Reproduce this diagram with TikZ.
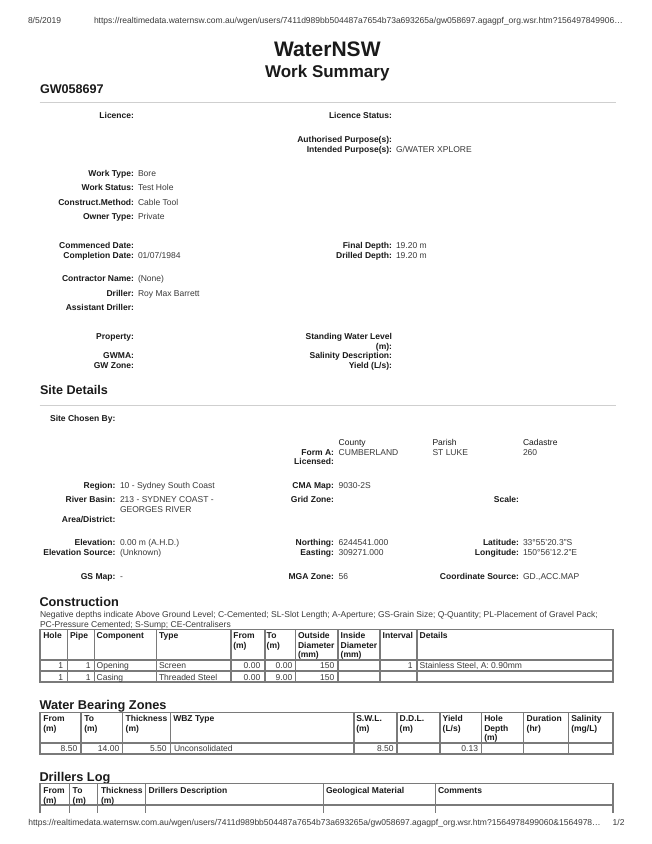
\documentclass[tikz,border=0pt]{standalone}
\usepackage{fontspec}
\setmainfont{Liberation Sans}
\definecolor{ink}{HTML}{1A1A1A}
\definecolor{valink}{HTML}{3A3A3A}
\definecolor{gridgrey}{HTML}{7A7A7A}
\definecolor{rulegrey}{HTML}{CFCFCF}
\tikzset{
 every node/.style={inner sep=0pt,outer sep=0pt,text=ink},
 lab/.style={anchor=base east,font=\fontsize{8.52}{10}\selectfont\bfseries},
 val/.style={anchor=base west,font=\fontsize{8.52}{10}\selectfont,text=valink},
 head/.style={anchor=base west,font=\fontsize{8.52}{10}\selectfont\bfseries},
 cellr/.style={anchor=base east,font=\fontsize{8.52}{10}\selectfont,text=valink},
 celll/.style={anchor=base west,font=\fontsize{8.52}{10}\selectfont,text=valink},
 sect/.style={anchor=base west,font=\fontsize{12.6}{14}\selectfont\bfseries},
 sectb/.style={anchor=base west,font=\fontsize{12.75}{15}\selectfont\bfseries},
 small/.style={anchor=base west,font=\fontsize{8.52}{10}\selectfont,text=valink},
 pagerule/.style={draw=rulegrey,line width=1pt},
 tline/.style={draw=gridgrey,line width=1.2pt},
 tframe/.style={draw=gridgrey,line width=1.6pt},
}
\begin{document}
\begin{tikzpicture}[x=1pt,y=-1pt]
\useasboundingbox (0,0) rectangle (652,844);
\fill[white] (0,0) rectangle (652,844);
% page header
\node[small] (date) at (28,23.5) {8/5/2019};
\node[small] (url) at (94,23.5) {https://realtimedata.waternsw.com.au/wgen/users/7411d989bb504487a7654b73a693265a/gw058697.agagpf\_org.wsr.htm?156497849906…};
\node[anchor=base,font=\fontsize{21}{24}\selectfont\bfseries] (title) at (327.3,56.5) {WaterNSW};
\node[anchor=base,font=\fontsize{17}{20}\selectfont\bfseries] (subtitle) at (327.3,77) {Work Summary};
\node[sect] (gw) at (40,93.5) {GW058697};
\draw[pagerule] (39.6,102.5) -- (616,102.5);
% summary
\node[lab] (l1) at (134,118.5) {Licence:};
\node[lab] (l2) at (392,118.5) {Licence Status:};
\node[lab] (l3) at (392,142.5) {Authorised Purpose(s):};
\node[lab] (l4) at (392,152.5) {Intended Purpose(s):};
\node[val] (v4) at (396,152.5) {G/WATER XPLORE};
\node[lab] (l5) at (134,176.5) {Work Type:};
\node[val] (v5) at (138,176.5) {Bore};
\node[lab] (l6) at (134,190.5) {Work Status:};
\node[val] (v6) at (138,190.5) {Test Hole};
\node[lab] (l7) at (134,205.5) {Construct.Method:};
\node[val] (v7) at (138,205.5) {Cable Tool};
\node[lab] (l8) at (134,219.5) {Owner Type:};
\node[val] (v8) at (138,219.5) {Private};
\node[lab] (l9) at (134,248.5) {Commenced Date:};
\node[lab] (l10) at (134,258.5) {Completion Date:};
\node[val] (v10) at (138,258.5) {01/07/1984};
\node[lab] (l11) at (392,248.5) {Final Depth:};
\node[val] (v11) at (396,248.5) {19.20 m};
\node[lab] (l12) at (392,258.5) {Drilled Depth:};
\node[val] (v12) at (396,258.5) {19.20 m};
\node[lab] (l13) at (134,281.5) {Contractor Name:};
\node[val] (v13) at (138,281.5) {(None)};
\node[lab] (l14) at (134,296.5) {Driller:};
\node[val] (v14) at (138,296.5) {Roy Max Barrett};
\node[lab] (l15) at (134,310.5) {Assistant Driller:};
\node[lab] (l16) at (134,339.5) {Property:};
\node[lab] (l17) at (392,339.5) {Standing Water Level};
\node[lab] (l17b) at (392,349.5) {(m):};
\node[lab] (l18) at (134,358.5) {GWMA:};
\node[lab] (l19) at (392,358.5) {Salinity Description:};
\node[lab] (l20) at (134,368.5) {GW Zone:};
\node[lab] (l21) at (392,368.5) {Yield (L/s):};
% site details
\node[sect] (site) at (40,394.5) {Site Details};
\draw[pagerule] (39.6,405) -- (616,405);
\node[lab] (s1) at (115.4,421.5) {Site Chosen By:};
\node[val,text=ink] (c1) at (338.7,445) {County};
\node[val,text=ink] (c2) at (432.5,445) {Parish};
\node[val,text=ink] (c3) at (523,445) {Cadastre};
\node[lab] (s2) at (334,455) {Form A:};
\node[val] (c4) at (338.7,455) {CUMBERLAND};
\node[val] (c5) at (432.5,455) {ST LUKE};
\node[val] (c6) at (523,455) {260};
\node[lab] (s3) at (334,464.5) {Licensed:};
\node[lab] (s4) at (115.4,488.5) {Region:};
\node[val] (s4v) at (120,488.5) {10 - Sydney South Coast};
\node[lab] (s5) at (334,488.5) {CMA Map:};
\node[val] (s5v) at (338.7,488.5) {9030-2S};
\node[lab] (s6) at (115.4,502.5) {River Basin:};
\node[val] (s6v) at (120,502.5) {213 - SYDNEY COAST -};
\node[val] (s6w) at (120,512.5) {GEORGES RIVER};
\node[lab] (s7) at (334,502.5) {Grid Zone:};
\node[lab] (s8) at (519,502.5) {Scale:};
\node[lab] (s9) at (115.4,522.5) {Area/District:};
\node[lab] (s10) at (115.4,545.5) {Elevation:};
\node[val] (s10v) at (120,545.5) {0.00 m (A.H.D.)};
\node[lab] (s11) at (115.4,555.5) {Elevation Source:};
\node[val] (s11v) at (120,555.5) {(Unknown)};
\node[lab] (s12) at (334,545.5) {Northing:};
\node[val] (s12v) at (338.7,545.5) {6244541.000};
\node[lab] (s13) at (334,555.5) {Easting:};
\node[val] (s13v) at (338.7,555.5) {309271.000};
\node[lab] (s14) at (519,545.5) {Latitude:};
\node[val] (s14v) at (523,545.5) {33°55'20.3"S};
\node[lab] (s15) at (519,555.5) {Longitude:};
\node[val] (s15v) at (523,555.5) {150°56'12.2"E};
\node[lab] (s16) at (115.4,579.5) {GS Map:};
\node[val] (s16v) at (120,579.5) {-};
\node[lab] (s17) at (334,579.5) {MGA Zone:};
\node[val] (s17v) at (338.7,579.5) {56};
\node[lab] (s18) at (519,579.5) {Coordinate Source:};
\node[val] (s18v) at (523,579.5) {GD.,ACC.MAP};
% construction
\node[sectb] (con) at (39.5,606.5) {Construction};
\node[celll] (n1) at (40,617.7) {Negative depths indicate Above Ground Level; C-Cemented; SL-Slot Length; A-Aperture; GS-Grain Size; Q-Quantity; PL-Placement of Gravel Pack;};
\node[celll] (n2) at (40,627) {PC-Pressure Cemented; S-Sump; CE-Centralisers};
\draw[tframe] (40,629.5) rectangle (613,682);
\draw[tline] (40,660) -- (613,660) (40,671) -- (613,671);
\foreach \x in {67.5,94.5,156.5,231,265,295.7,338,380,417} \draw[tline] (\x,629.5) -- (\x,682);
\node[head] (ch1) at (43.3,638) {Hole};
\node[head] (ch2) at (70,638) {Pipe};
\node[head] (ch3) at (96.7,638) {Component};
\node[head] (ch4) at (159,638) {Type};
\node[head] (ch5) at (233.3,638) {From};
\node[head] (ch5b) at (233.3,648) {(m)};
\node[head] (ch6) at (266.7,638) {To};
\node[head] (ch6b) at (266.7,648) {(m)};
\node[head] (ch7) at (298,638) {Outside};
\node[head] (ch7b) at (298,648) {Diameter};
\node[head] (ch7c) at (298,657.7) {(mm)};
\node[head] (ch8) at (340.7,638) {Inside};
\node[head] (ch8b) at (340.7,648) {Diameter};
\node[head] (ch8c) at (340.7,657.7) {(mm)};
\node[head] (ch9) at (382.7,638) {Interval};
\node[head] (ch10) at (419.7,638) {Details};
\node[cellr] (a1) at (63,668.7) {1};
\node[cellr] (a2) at (90.7,668.7) {1};
\node[celll] (a3) at (96.7,668.7) {Opening};
\node[celll] (a4) at (159,668.7) {Screen};
\node[cellr] (a5) at (260.3,668.7) {0.00};
\node[cellr] (a6) at (292.3,668.7) {0.00};
\node[cellr] (a7) at (334.3,668.7) {150};
\node[cellr] (a8) at (412.7,668.7) {1};
\node[celll] (a9) at (419.7,668.7) {Stainless Steel, A: 0.90mm};
\node[cellr] (b1) at (63,680) {1};
\node[cellr] (b2) at (90.7,680) {1};
\node[celll] (b3) at (96.7,680) {Casing};
\node[celll] (b4) at (159,680) {Threaded Steel};
\node[cellr] (b5) at (260.3,680) {0.00};
\node[cellr] (b6) at (292.3,680) {9.00};
\node[cellr] (b7) at (334.3,680) {150};
% water bearing zones
\node[sectb] (wbz) at (39.5,709) {Water Bearing Zones};
\draw[tframe] (40,712.5) rectangle (613,754);
\draw[tline] (40,743) -- (613,743);
\foreach \x in {81,122.7,170.3,354,397,440,481.7,523.7,568.7} \draw[tline] (\x,712.5) -- (\x,754);
\node[head] (w1) at (43.3,721.3) {From};
\node[head] (w1b) at (43.3,731) {(m)};
\node[head] (w2) at (84.3,721.3) {To};
\node[head] (w2b) at (84.3,731) {(m)};
\node[head] (w3) at (125.7,721.3) {Thickness};
\node[head] (w3b) at (125.7,731) {(m)};
\node[head] (w4) at (173.3,721.3) {WBZ Type};
\node[head] (w5) at (356.3,721.3) {S.W.L.};
\node[head] (w5b) at (356.3,731) {(m)};
\node[head] (w6) at (399.7,721.3) {D.D.L.};
\node[head] (w6b) at (399.7,731) {(m)};
\node[head] (w7) at (442.7,721.3) {Yield};
\node[head] (w7b) at (442.7,731) {(L/s)};
\node[head] (w8) at (484.3,721.3) {Hole};
\node[head] (w8b) at (484.3,731) {Depth};
\node[head] (w8c) at (484.3,740.7) {(m)};
\node[head] (w9) at (526.7,721.3) {Duration};
\node[head] (w9b) at (526.7,731) {(hr)};
\node[head] (w10) at (571.3,721.3) {Salinity};
\node[head] (w10b) at (571.3,731) {(mg/L)};
\node[cellr] (x1) at (77.3,751.7) {8.50};
\node[cellr] (x2) at (119.3,751.7) {14.00};
\node[cellr] (x3) at (166.7,751.7) {5.50};
\node[celll] (x4) at (174,751.7) {Unconsolidated};
\node[cellr] (x5) at (393.7,751.7) {8.50};
\node[cellr] (x6) at (478,751.7) {0.13};
% drillers log
\node[sectb] (log) at (39.5,781) {Drillers Log};
\draw[tframe] (40,813) -- (40,783.5) -- (613,783.5) -- (613,813);
\draw[tline] (40,805) -- (613,805);
\foreach \x in {69.3,97.7,145.7,323.3,435.3} \draw[tline] (\x,783.5) -- (\x,813);
\node[head] (d1) at (43.3,793.3) {From};
\node[head] (d1b) at (43.3,803) {(m)};
\node[head] (d2) at (72.7,793.3) {To};
\node[head] (d2b) at (72.7,803) {(m)};
\node[head] (d3) at (101,793.3) {Thickness};
\node[head] (d3b) at (101,803) {(m)};
\node[head] (d4) at (148.7,793.3) {Drillers Description};
\node[head] (d5) at (326,793.3) {Geological Material};
\node[head] (d6) at (438,793.3) {Comments};
% footer
\fill[white] (0,814) rectangle (652,844);
\node[small] (foot) at (28.3,825.7) {https://realtimedata.waternsw.com.au/wgen/users/7411d989bb504487a7654b73a693265a/gw058697.agagpf\_org.wsr.htm?1564978499060\&1564978…};
\node[small] (pg) at (612.7,825.7) {1/2};
\end{tikzpicture}
\end{document}
